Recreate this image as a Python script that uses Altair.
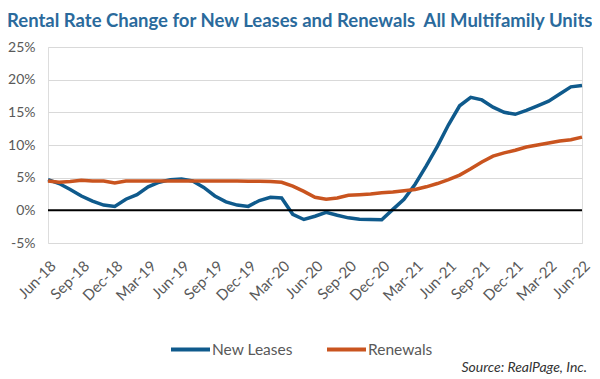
import altair as alt
import pandas as pd

months = [d.strftime("%b-%y") for d in pd.date_range("2018-06-01", "2022-06-01", freq="MS")]
tick_labels = months[::3]

new_leases = [4.7, 4.1, 3.2, 2.2, 1.4, 0.8, 0.6, 1.7, 2.4, 3.6, 4.3, 4.7, 4.8,
              4.5, 3.5, 2.2, 1.3, 0.8, 0.6, 1.5, 2.0, 1.9, -0.6, -1.4, -0.9,
              -0.3, -0.75, -1.15, -1.35, -1.4, -1.45, 0.15, 1.7, 4.0, 6.8, 9.8, 13.1,
              16.0, 17.3, 16.9, 15.8, 15.0, 14.7, 15.3, 16.0, 16.7, 17.8, 18.9, 19.1]
renewals = [4.5, 4.3, 4.4, 4.6, 4.5, 4.5, 4.2, 4.5, 4.5, 4.5, 4.5, 4.5,
            4.5, 4.5, 4.5, 4.5, 4.5, 4.5, 4.45, 4.45, 4.4, 4.3, 3.7, 2.9,
            2.0, 1.7, 1.9, 2.3, 2.4, 2.5, 2.7, 2.8, 3.0, 3.2, 3.6, 4.1,
            4.7, 5.4, 6.35, 7.4, 8.3, 8.8, 9.2, 9.7, 10.0, 10.3, 10.6, 10.8, 11.2]
series = ["New Leases", "Renewals"]
colors = ["#0f5a8c", "#c9541f"]
y_ticks = [-5, 0, 5, 10, 15, 20, 25]

rows = []
for i, m in enumerate(months):
    rows.append({"month": m, "order": i, "series": series[0], "value": new_leases[i]})
    rows.append({"month": m, "order": i, "series": series[1], "value": renewals[i]})
df = pd.DataFrame(rows)

W, H = 534, 196
FONT = "Lato"

x_enc = alt.X("month:O", sort=months,
              scale=alt.Scale(type="point", padding=0),
              axis=alt.Axis(values=tick_labels, title=None, labelAngle=-45,
                            labelAlign="right", labelBaseline="top",
                            labelFontSize=15, labelColor="#595959", labelFont=FONT,
                            ticks=False, domain=False, grid=False, labelPadding=15,
                            labelOverlap=False))
y_enc = alt.Y("value:Q", scale=alt.Scale(domain=[-5, 25], nice=False),
              axis=alt.Axis(values=y_ticks, title=None,
                            labelExpr="datum.value + '%'",
                            labelFontSize=14, labelColor="#595959", labelFont=FONT,
                            ticks=False, domain=False, grid=True, labelOverlap=False,
                            gridColor="#d9d9d9", gridWidth=1.2, labelPadding=13))

lines = alt.Chart(df).mark_line(strokeWidth=3.5).encode(
    x=x_enc, y=y_enc,
    color=alt.Color("series:N", sort=series,
                    scale=alt.Scale(domain=series, range=colors),
                    legend=alt.Legend(orient="none", legendX=121, legendY=281,
                                      direction="horizontal", title=None,
                                      symbolType="stroke", symbolSize=1521,
                                      symbolStrokeWidth=4, labelFontSize=15.5,
                                      labelFont=FONT, labelColor="#595959",
                                      labelOffset=0, columnPadding=26)),
    order="order:Q",
)

zero = alt.Chart(pd.DataFrame({"value": [0]})).mark_rule(color="black", strokeWidth=2).encode(
    y=y_enc)

source = alt.Chart(pd.DataFrame({"t": ["Source: RealPage, Inc."]})).mark_text(
    align="right", baseline="alphabetic", fontStyle="italic", fontSize=14,
    font=FONT, color="#333333").encode(
    text="t:N", x=alt.value(W + 5), y=alt.value(325))

chart = alt.layer(lines, zero, source).properties(
    width=W, height=H,
    title=alt.TitleParams("Rental Rate Change for New Leases and Renewals \u00a0All Multifamily Units",
                          anchor="start", frame="group", dx=-41, offset=10, fontSize=18.5,
                          font=FONT, fontWeight="bold", color="#2a6a9c"),
    autosize=alt.AutoSizeParams(type="none"),
    padding={"left": 40, "top": 39, "right": 10, "bottom": 136},
).configure_view(stroke=None).configure(background="white")

chart.save("out.html", embed_options={"renderer": "svg", "actions": False})
